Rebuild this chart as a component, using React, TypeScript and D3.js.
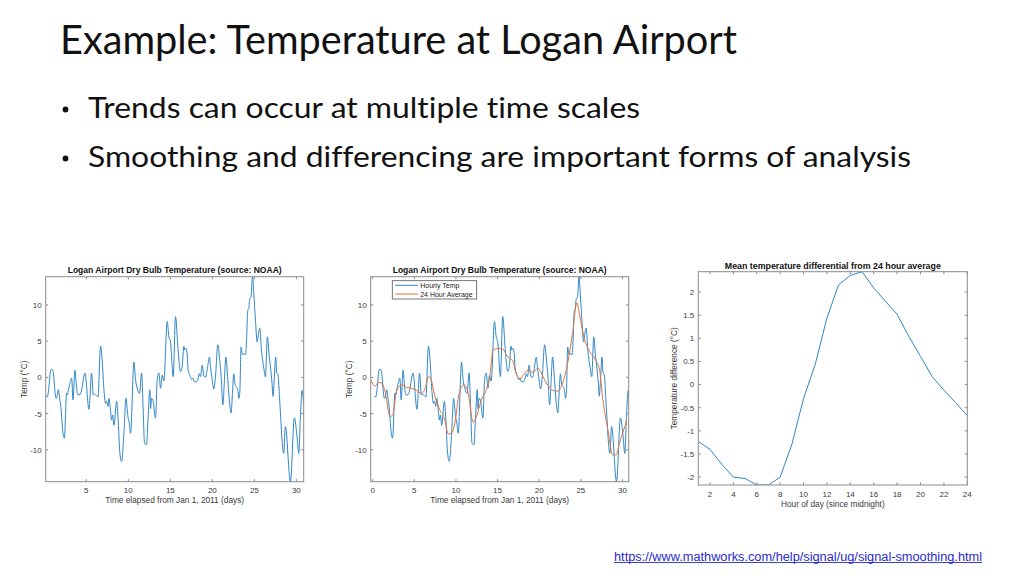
import React from "react";
import * as d3 from "d3";

// ---------- DATA ----------
// Hourly dry bulb temperature (days since Jan 1 2011, °C)
const hourlyTemp: [number, number][] = [
  [0.17,-2.6],[0.36,-2.7],[0.56,-1.3],[0.76,1.0],[0.96,1.1],[1.08,0.6],[1.24,-1.5],[1.40,-2.9],[1.55,-2.5],[1.67,-1.7],
  [1.87,-3.2],[1.95,-3.8],[2.23,-7.7],[2.39,-8.4],[2.66,-2.2],[2.75,-2.4],[2.86,-1.8],[3.02,-1.0],[3.26,-0.1],[3.42,-3.1],
  [3.65,1.0],[3.85,-1.5],[4.01,-2.4],[4.25,-2.4],[4.41,-1.9],[4.84,0.6],[5.32,-4.4],[5.63,0.6],[5.83,-2.4],[5.99,-2.3],
  [6.19,-2.5],[6.39,-2.7],[6.70,4.3],[6.90,2.2],[7.10,-1.7],[7.30,-3.6],[7.42,-3.3],[7.58,-4.0],[7.70,-2.9],[7.89,-4.7],
  [8.01,-5.9],[8.13,-5.2],[8.29,-6.6],[8.61,-3.3],[8.77,-5.4],[9.00,-10.5],[9.20,-11.6],[9.48,-7.7],[9.72,-2.9],[9.95,-5.4],
  [10.11,-6.3],[10.27,-7.7],[10.67,2.1],[10.86,-0.3],[11.06,-1.5],[11.34,-2.2],[11.58,0.6],[11.77,-4.5],[11.93,-9.1],[12.17,-9.3],
  [12.33,-6.1],[12.57,-1.7],[12.65,-4.3],[12.77,-2.9],[12.92,-3.1],[13.24,-5.6],[13.44,-0.3],[13.64,0.6],[13.84,-1.5],[14.03,0.3],
  [14.23,-0.5],[14.63,7.7],[14.83,5.6],[15.02,4.9],[15.34,0.1],[15.62,8.4],[15.90,4.2],[16.21,0.8],[16.41,1.5],[16.61,4.3],
  [16.73,3.8],[16.85,4.0],[17.00,3.3],[17.12,1.0],[17.40,0.1],[17.52,-0.3],[17.68,-0.1],[17.88,-0.6],[18.12,-0.6],[18.31,-0.1],
  [18.43,0.5],[18.59,0.1],[18.79,1.7],[18.99,0.2],[19.19,0.0],[19.38,1.0],[19.66,2.8],[19.78,1.5],[19.98,-0.3],[20.17,-1.6],
  [20.37,0.1],[20.65,4.5],[20.89,2.2],[21.05,0.1],[21.25,-3.8],[21.44,-0.3],[21.60,2.8],[21.84,-0.3],[22.00,-2.9],[22.24,-4.9],
  [22.39,-2.2],[22.55,0.5],[22.71,-1.0],[22.87,-1.3],[23.03,-1.7],[23.15,-2.9],[23.27,-2.0],[23.42,4.2],[23.58,3.1],[23.74,3.3],
  [23.94,3.1],[24.06,4.9],[24.22,9.3],[24.34,9.5],[24.42,10.7],[24.62,11.2],[24.77,13.9],[24.93,11.6],[25.13,7.9],[25.33,4.9],
  [25.52,6.3],[25.64,6.8],[25.84,3.8],[26.12,1.3],[26.31,0.1],[26.55,5.6],[26.75,3.1],[26.91,1.5],[27.10,-0.8],[27.22,-2.6],
  [27.38,0.1],[27.54,2.8],[27.66,0.6],[27.78,0.5],[28.10,-4.9],[28.29,-8.6],[28.49,-10.5],[28.69,-6.8],[29.29,-14.4],[29.76,-5.6],
  [30.08,-8.2],[30.28,-10.5],[30.48,-5.4],[30.68,-1.8],[30.87,-3.8],
];

// 24 hour moving average (days, °C)
const dailyAverage: [number, number][] = [
  [-0.24,-0.3],[0.28,-1.2],[0.68,-0.7],[1.08,-0.8],[1.48,-1.9],[2.08,-5.4],[2.40,-5.2],[2.88,-1.9],[3.48,-1.0],[4.08,-1.4],
  [4.67,-1.5],[5.27,-1.8],[5.87,-2.2],[6.39,-1.2],[6.67,0.1],[6.95,-0.1],[7.47,-2.6],[8.07,-4.5],[8.67,-5.9],[9.07,-7.8],
  [9.47,-7.7],[9.87,-6.3],[10.39,-2.2],[10.95,-1.0],[11.47,-2.2],[12.07,-6.2],[12.47,-5.4],[13.06,-3.1],[13.58,-1.9],[14.06,0.1],
  [14.46,3.8],[15.06,4.0],[15.66,3.9],[16.06,3.1],[16.46,2.6],[16.78,2.4],[17.18,0.8],[17.66,-0.3],[18.06,0.3],[18.66,1.0],
  [19.26,0.7],[19.86,1.3],[20.38,0.3],[20.86,-0.8],[21.65,-1.8],[22.25,-1.9],[22.77,-0.9],[23.46,2.2],[23.98,5.9],[24.54,10.3],
  [24.85,8.6],[25.45,5.2],[26.05,3.6],[26.65,2.6],[27.25,1.0],[27.65,-3.1],[28.25,-7.2],[28.84,-10.7],[29.24,-10.7],[29.64,-9.1],
  [30.52,-6.0],
];

// Mean differential per hour of day
const hoursOfDay = [1,2,3,4,5,6,7,8,9,10,11,12,13,14,15,16,17,18,19,20,21,22,23,24];
const meanDiff = [-1.23,-1.40,-1.72,-2.0,-2.03,-2.17,-2.17,-2.0,-1.29,-0.30,0.44,1.44,2.16,2.36,2.44,2.09,1.80,1.52,1.04,0.61,0.17,-0.12,-0.39,-0.67];

const dayTicks1 = [5,10,15,20,25,30];
const dayTicks2 = [0,5,10,15,20,25,30];
const tempTicks = [-10,-5,0,5,10];
const hourTicks = [2,4,6,8,10,12,14,16,18,20,22,24];
const diffTicks = [-2,-1.5,-1,-0.5,0,0.5,1,1.5,2];

const chartTitleTemp = "Logan Airport Dry Bulb Temperature (source: NOAA)";
const chartTitleDiff = "Mean temperature differential from 24 hour average";
const xLabelDays = "Time elapsed from Jan 1, 2011 (days)";
const xLabelHour = "Hour of day (since midnight)";
const yLabelTemp = "Temp (°C)";
const yLabelDiff = "Temperature difference (°C)";
const legendLabels = ["Hourly Temp", "24 Hour Average"];

const BLUE = "#2f86c6";
const ORANGE = "#e0733d";
const AXC = "#8a8a8a";
const TXT = "#3a3a3a";
const FONT = "'Liberation Sans', Arial, sans-serif";
const SLIDE_FONT = "Lato, 'Open Sans', sans-serif";

type Series = { data: [number, number][]; color: string };

function MAxes(props: {
  id: string;
  left: number; right: number; top: number; bottom: number;
  xDomain: [number, number]; yDomain: [number, number];
  xTicks: number[]; yTicks: number[];
  title: string; titleLen: number; titleY: number;
  xLabel: string; xLabelY: number;
  yLabel: string; yLabelX: number;
  series: Series[];
  smooth: boolean;
  legend?: boolean;
}) {
  const p = props;
  const x = d3.scaleLinear().domain(p.xDomain).range([p.left, p.right]);
  const y = d3.scaleLinear().domain(p.yDomain).range([p.bottom, p.top]);
  const line = d3.line<[number, number]>()
    .x((d) => x(d[0]))
    .y((d) => y(d[1]))
    .curve(p.smooth ? d3.curveMonotoneX : d3.curveLinear);
  const tl = 2.6;
  const cx = (p.left + p.right) / 2;
  const cy = (p.top + p.bottom) / 2;
  return (
    <g>
      <defs>
        <clipPath id={p.id}>
          <rect x={p.left} y={p.top} width={p.right - p.left} height={p.bottom - p.top} />
        </clipPath>
      </defs>
      <rect x={p.left} y={p.top} width={p.right - p.left} height={p.bottom - p.top} fill="#fff" />
      <g clipPath={`url(#${p.id})`}>
        {p.series.map((s, i) => (
          <path key={i} d={line(s.data) || ""} fill="none" stroke={s.color} strokeWidth={1} strokeLinejoin="round" />
        ))}
      </g>
      <rect x={p.left} y={p.top} width={p.right - p.left} height={p.bottom - p.top} fill="none" stroke={AXC} strokeWidth={1} />
      {p.xTicks.map((t) => (
        <g key={"x" + t}>
          <line x1={x(t)} x2={x(t)} y1={p.bottom} y2={p.bottom - tl} stroke={AXC} />
          <line x1={x(t)} x2={x(t)} y1={p.top} y2={p.top + tl} stroke={AXC} />
          <text x={x(t)} y={p.bottom + 11.5} textAnchor="middle" fontSize={8} fill={TXT} fontFamily={FONT}>{String(t)}</text>
        </g>
      ))}
      {p.yTicks.map((t) => (
        <g key={"y" + t}>
          <line x1={p.left} x2={p.left + tl} y1={y(t)} y2={y(t)} stroke={AXC} />
          <line x1={p.right} x2={p.right - tl} y1={y(t)} y2={y(t)} stroke={AXC} />
          <text x={p.left - 4} y={y(t) + 2.9} textAnchor="end" fontSize={8} fill={TXT} fontFamily={FONT}>{String(t)}</text>
        </g>
      ))}
      <text x={cx} y={p.titleY} textAnchor="middle" fontSize={8.2} fontWeight="bold" fill="#111" fontFamily={FONT}
        textLength={p.titleLen} lengthAdjust="spacingAndGlyphs">{p.title}</text>
      <text x={cx} y={p.xLabelY} textAnchor="middle" fontSize={8.3} fill={TXT} fontFamily={FONT}>{p.xLabel}</text>
      <text transform={`translate(${p.yLabelX},${cy}) rotate(-90)`} textAnchor="middle" fontSize={8.3} fill={TXT} fontFamily={FONT}>{p.yLabel}</text>
      {p.legend && (
        <g>
          <rect x={p.left + 21.6} y={p.top + 4} width={84.4} height={18.3} fill="#fff" stroke="#555" strokeWidth={0.8} />
          {p.series.map((s, i) => (
            <g key={"l" + i}>
              <line x1={p.left + 24.5} x2={p.left + 47.5} y1={p.top + 8.6 + i * 8.7} y2={p.top + 8.6 + i * 8.7} stroke={s.color} strokeWidth={1} />
              <text x={p.left + 49.5} y={p.top + 11.1 + i * 8.7} fontSize={7} fill="#222" fontFamily={FONT}>{legendLabels[i]}</text>
            </g>
          ))}
        </g>
      )}
    </g>
  );
}

export default function App() {
  const hourlyExtentX = d3.extent(hourlyTemp, (d) => d[0]) as [number, number];
  const tempExtent = d3.extent(hourlyTemp, (d) => d[1]) as [number, number];
  const diffData: [number, number][] = hoursOfDay.map((h, i) => [h, meanDiff[i]]);
  const diffExtent = d3.extent(meanDiff) as [number, number];
  const hourExtent = d3.extent(hoursOfDay) as [number, number];
  const slideStyle = { fontVariantLigatures: "none" as const, fontFeatureSettings: "'liga' 0, 'clig' 0" };
  return (
    <div style={{ position: "fixed", left: 0, top: 0, width: 1024, height: 576, background: "#fff" }}>
      <svg width={1024} height={576} viewBox="0 0 1024 576" style={{ display: "block" }}>
        <rect width={1024} height={576} fill="#fff" />
        <text x={60} y={54} fontFamily={SLIDE_FONT} fontSize={41} fill="#111" style={slideStyle}
          textLength={677} lengthAdjust="spacingAndGlyphs">Example: Temperature at Logan Airport</text>
        <circle cx={65.5} cy={109.5} r={2.9} fill="#111" />
        <text x={88} y={118} fontFamily={SLIDE_FONT} fontSize={29} fill="#111" style={slideStyle}
          textLength={552} lengthAdjust="spacingAndGlyphs">Trends can occur at multiple time scales</text>
        <circle cx={65.5} cy={158.5} r={2.9} fill="#111" />
        <text x={88} y={167} fontFamily={SLIDE_FONT} fontSize={29} fill="#111" style={slideStyle}
          textLength={823} lengthAdjust="spacingAndGlyphs">Smoothing and differencing are important forms of analysis</text>

        <MAxes id="c1" left={45.7} right={303.7} top={276.7} bottom={481.7}
          xDomain={hourlyExtentX} yDomain={tempExtent} xTicks={dayTicks1} yTicks={tempTicks}
          title={chartTitleTemp} titleLen={214} titleY={273}
          xLabel={xLabelDays} xLabelY={503} yLabel={yLabelTemp} yLabelX={27}
          series={[{ data: hourlyTemp, color: BLUE }]} smooth />

        <MAxes id="c2" left={370.7} right={628.7} top={276.7} bottom={481.7}
          xDomain={[dailyAverage[0][0], 30.75]} yDomain={tempExtent} xTicks={dayTicks2} yTicks={tempTicks}
          title={chartTitleTemp} titleLen={214} titleY={273}
          xLabel={xLabelDays} xLabelY={503} yLabel={yLabelTemp} yLabelX={352}
          series={[{ data: hourlyTemp, color: BLUE }, { data: dailyAverage, color: ORANGE }]} smooth legend />

        <MAxes id="c3" left={698.3} right={967.3} top={271.7} bottom={485}
          xDomain={hourExtent} yDomain={diffExtent} xTicks={hourTicks} yTicks={diffTicks}
          title={chartTitleDiff} titleLen={216} titleY={268.5}
          xLabel={xLabelHour} xLabelY={506.5} yLabel={yLabelDiff} yLabelX={677}
          series={[{ data: diffData, color: BLUE }]} smooth={false} />

        <text x={614} y={560.5} fontFamily={FONT} fontSize={12} fill="#2a2ad0"
          textLength={368} lengthAdjust="spacingAndGlyphs">https://www.mathworks.com/help/signal/ug/signal-smoothing.html</text>
        <line x1={614} x2={982} y1={562.5} y2={562.5} stroke="#2a2ad0" strokeWidth={0.9} />
      </svg>
    </div>
  );
}
